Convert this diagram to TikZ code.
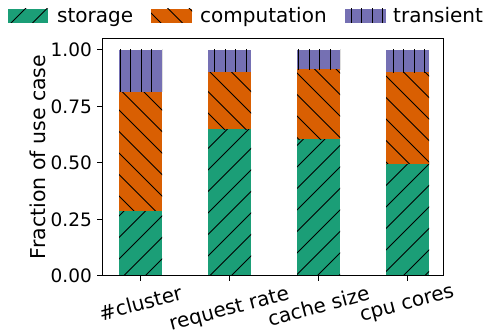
\documentclass[tikz,border=0pt]{standalone}
\usepackage{fontspec}
\setmainfont{DejaVu Sans}
\usepackage{tikz}

\definecolor{storage}{HTML}{1B9E77}
\definecolor{computation}{HTML}{D95F02}
\definecolor{transient}{HTML}{7570B3}

\tikzset{
  hatchline/.style={black,line width=0.9pt},
  axisline/.style={black,line width=1pt},
  ticklabel/.style={inner sep=0pt,font=\fontsize{18.5}{18.5}\selectfont},
  xticklabel/.style={inner sep=0pt,rotate=15,font=\fontsize{20}{20}\selectfont},
  legendtext/.style={inner sep=0pt,anchor=base west,font=\fontsize{20}{20}\selectfont}
}

\newcommand{\hatchne}[4]{%
  \begin{scope}
    \clip (#1,#2) rectangle (#3,#4);
    \foreach \k in {-20,...,20}
      \draw[hatchline] (\k*21.5,0) -- ++(400,400);
  \end{scope}}
\newcommand{\hatchnw}[4]{%
  \begin{scope}
    \clip (#1,#2) rectangle (#3,#4);
    \foreach \k in {5,...,38}
      \draw[hatchline] (\k*21.5,0) -- ++(-400,400);
  \end{scope}}
\newcommand{\hatchvert}[4]{%
  \begin{scope}
    \clip (#1,#2) rectangle (#3,#4);
    \foreach \k in {0,...,45}
      \draw[hatchline] (4.5+\k*10.5,0) -- ++(0,400);
  \end{scope}}

\begin{document}
\begin{tikzpicture}[x=1pt,y=1pt]
\useasboundingbox (0,0) rectangle (485,335);

\foreach \i/\s/\c in {0/0.288/0.816,1/0.649/0.904,2/0.606/0.915,3/0.496/0.901}{
  \pgfmathsetmacro{\xl}{119+89*\i}
  \pgfmathsetmacro{\xr}{\xl+43}
  \pgfmathsetmacro{\ys}{59+226*\s}
  \pgfmathsetmacro{\yc}{59+226*\c}
  \fill[storage] (\xl,59) rectangle (\xr,\ys);
  \hatchne{\xl}{59}{\xr}{\ys}
  \fill[computation] (\xl,\ys) rectangle (\xr,\yc);
  \hatchnw{\xl}{\ys}{\xr}{\yc}
  \fill[transient] (\xl,\yc) rectangle (\xr,285);
  \hatchvert{\xl}{\yc}{\xr}{285}
}

\draw[axisline] (102,59) rectangle (443,296.3);

\foreach \n/\v/\t in {0/0/0.00,1/0.25/0.25,2/0.5/0.50,3/0.75/0.75,4/1/1.00}{
  \draw[axisline] (102,59+226*\v) -- ++(-5,0);
  \node[ticklabel,anchor=east] (ytick\n) at (92,59+226*\v) {\t};
}

\foreach \n/\y/\t in {0/303/\#cluster,1/310/request rate,2/305.5/cache size,3/305.5/cpu cores}{
  \draw[axisline] (140.5+89*\n,59) -- ++(0,-5);
  \node[xticklabel] (xtick\n) at (140.5+89*\n,335-\y) {\t};
}

\node[rotate=90,inner sep=0pt,font=\fontsize{20.5}{20.5}\selectfont] (ylabel) at (38,178) {Fraction of use case};

\fill[storage] (8,312) rectangle (48,326);
\hatchne{8}{312}{48}{326}
\node[legendtext] (legstorage) at (57,312) {storage};
\fill[computation] (151,312) rectangle (192,326);
\hatchnw{151}{312}{192}{326}
\node[legendtext] (legcomputation) at (200,312) {computation};
\fill[transient] (345,312) rectangle (386,326);
\hatchvert{345}{312}{386}{326}
\node[legendtext] (legtransient) at (393,312) {transient};
\end{tikzpicture}
\end{document}
